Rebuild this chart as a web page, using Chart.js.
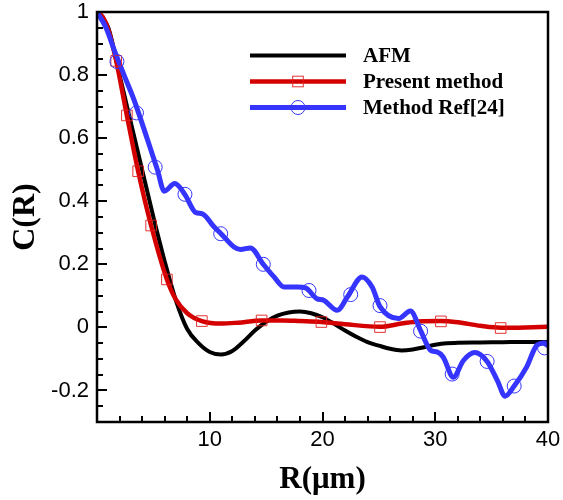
<!DOCTYPE html>
<html>
<head>
<meta charset="utf-8">
<script src="https://cdn.jsdelivr.net/npm/chart.js@4/dist/chart.umd.min.js"></script>
<style>
html,body{margin:0;padding:0;background:#fff;}
#wrap{width:563px;height:500px;position:relative;}
</style>
</head>
<body>
<div id="wrap"><canvas id="c" width="563" height="500"></canvas></div>
<script>
// ---- data ----
const afmR = [0,1,2,3,4,5,6,7,8,9,10,11,12,13,14,15,16,17,18,19,20,21,22,23,24,25,26,27,28,29,30,31,32,34,36,38,40];
const afmC = [1,0.95,0.80,0.65,0.50,0.35,0.21,0.085,-0.005,-0.05,-0.078,-0.086,-0.075,-0.045,-0.01,0.018,0.037,0.047,0.05,0.045,0.032,0.012,-0.01,-0.03,-0.047,-0.058,-0.068,-0.073,-0.07,-0.063,-0.055,-0.05,-0.049,-0.048,-0.047,-0.046,-0.046];

const presR = [0,0.5,1,1.7,2.65,3.65,4.8,6.2,7,8,9.3,11,12.5,14.6,16.5,18,19.9,22,25.1,27,28.5,30.5,32,34,35.8,38,40];
const presC = [1,0.985,0.945,0.845,0.672,0.495,0.323,0.152,0.088,0.045,0.02,0.012,0.015,0.022,0.022,0.02,0.017,0.01,0.002,0.012,0.019,0.02,0.016,0.005,-0.001,0.0,0.002];
const presMarkR = [1.7,2.65,3.65,4.8,6.2,9.3,14.6,19.9,25.1,30.5,35.8];
const presMarkC = [0.845,0.672,0.495,0.323,0.152,0.02,0.022,0.017,0.001,0.019,-0.002];

const refR = [0,0.8,1.53,2.4,3.3,4.49,5.37,5.96,6.9,7.8,8.76,9.35,10.4,11,12.15,12.74,13.6,14.75,15.7,16.6,17.8,18.5,19.5,20.1,21.3,22.2,23.5,24.4,25.1,26.75,27.8,28.7,29.6,30.15,30.7,31.6,32.5,33.5,34.6,35.5,36.2,37,38.1,39,39.6,40];
const refC = [1,0.95,0.879,0.80,0.72,0.594,0.498,0.432,0.456,0.421,0.364,0.36,0.318,0.297,0.255,0.247,0.252,0.2,0.16,0.128,0.128,0.125,0.091,0.086,0.054,0.096,0.16,0.128,0.066,0.028,0.052,-0.01,-0.073,-0.078,-0.094,-0.158,-0.105,-0.08,-0.108,-0.168,-0.218,-0.186,-0.126,-0.057,-0.05,-0.058];
const refMarkR = [1.77,3.5,5.16,7.8,10.97,14.75,18.8,22.5,25.1,28.7,31.5,34.6,37.0,39.7];
const refMarkC = [0.843,0.68,0.508,0.422,0.297,0.2,0.117,0.104,0.069,-0.012,-0.148,-0.108,-0.186,-0.065];

const seriesNames = ['AFM','Present method','Method Ref[24]'];
const xTickValues = [10,20,30,40];
const yTickValues = [-0.2,0,0.2,0.4,0.6,0.8,1];
const xTitle = 'R(\u03bcm)';
const yTitle = 'C(R)';

// ---- styles ----
const BLACK = '#000000', RED = '#d40000', BLUE = '#3535ff';
const pts = (xs, ys) => xs.map((x, i) => ({x: x, y: ys[i]}));

const legendItems = [
  {label: seriesNames[0], color: BLACK, width: 4, marker: null},
  {label: seriesNames[1], color: RED, width: 4.5, marker: 'rect'},
  {label: seriesNames[2], color: BLUE, width: 5, marker: 'circle'}
];

const framePlugin = {
  id: 'frame',
  afterDatasetsDraw(chart) {
    const {ctx, chartArea: a, scales: {x, y}} = chart;
    ctx.save();
    ctx.strokeStyle = '#000';
    ctx.lineWidth = 2.5;
    ctx.strokeRect(a.left, a.top, a.right - a.left, a.bottom - a.top);
    ctx.lineWidth = 2;
    // x ticks (inward from bottom)
    for (let v = 2; v < 40; v += 2) {
      const px = Math.round(x.getPixelForValue(v));
      const len = (v % 10 === 0) ? 10 : 6;
      ctx.beginPath(); ctx.moveTo(px, a.bottom); ctx.lineTo(px, a.bottom - len); ctx.stroke();
    }
    // y ticks (inward from left)
    for (let k = -5; k < 20; k++) {
      const v = k * 0.05;
      const py = Math.round(y.getPixelForValue(v));
      const len = (k % 4 === 0) ? 10 : 6;
      ctx.beginPath(); ctx.moveTo(a.left, py); ctx.lineTo(a.left + len, py); ctx.stroke();
    }
    // legend
    const x0 = 250, x1 = 346, xm = 298, xt = 363;
    const rows = [55.5, 81.5, 107.5];
    ctx.font = 'bold 21px "Liberation Serif", "Times New Roman", serif';
    ctx.textBaseline = 'middle';
    ctx.textAlign = 'left';
    legendItems.forEach((it, i) => {
      const yy = rows[i];
      ctx.strokeStyle = it.color;
      ctx.lineWidth = it.width;
      ctx.beginPath(); ctx.moveTo(x0, yy); ctx.lineTo(x1, yy); ctx.stroke();
      ctx.lineWidth = 1;
      if (it.marker === 'rect') {
        ctx.strokeStyle = 'rgba(225,30,30,0.9)';
        ctx.strokeRect(xm - 5.3, yy - 5.3, 10.6, 10.6);
      } else if (it.marker === 'circle') {
        ctx.strokeStyle = BLUE;
        ctx.beginPath(); ctx.arc(xm, yy, 7, 0, Math.PI * 2); ctx.stroke();
      }
      ctx.fillStyle = '#000';
      ctx.fillText(it.label, xt, yy + 1);
    });
    ctx.restore();
  }
};

new Chart(document.getElementById('c'), {
  type: 'line',
  data: {
    datasets: [
      {label: seriesNames[2] + ' markers', data: pts(refMarkR, refMarkC), showLine: false,
       pointStyle: 'circle', pointRadius: 7, pointBorderWidth: 1, pointBorderColor: BLUE,
       pointBackgroundColor: 'rgba(0,0,0,0)', order: 0},
      {label: seriesNames[1] + ' markers', data: pts(presMarkR, presMarkC), showLine: false,
       pointStyle: 'rect', pointRadius: 7.5, pointBorderWidth: 1, pointBorderColor: 'rgba(225,30,30,0.9)',
       pointBackgroundColor: 'rgba(0,0,0,0)', order: 1},
      {label: seriesNames[2], data: pts(refR, refC), borderColor: BLUE, borderWidth: 5,
       pointRadius: 0, cubicInterpolationMode: 'monotone', order: 2},
      {label: seriesNames[1], data: pts(presR, presC), borderColor: RED, borderWidth: 4.5,
       pointRadius: 0, cubicInterpolationMode: 'monotone', order: 3},
      {label: seriesNames[0], data: pts(afmR, afmC), borderColor: BLACK, borderWidth: 4,
       pointRadius: 0, cubicInterpolationMode: 'monotone', order: 4}
    ]
  },
  options: {
    responsive: false,
    animation: false,
    events: [],
    layout: {padding: {left: 0, right: 15, top: 12, bottom: 0}},
    plugins: {legend: {display: false}, tooltip: {enabled: false}},
    scales: {
      x: {
        type: 'linear', min: 0, max: 40,
        afterFit: s => { s.height = 78; },
        afterBuildTicks: s => { s.ticks = xTickValues.map(v => ({value: v})); },
        grid: {display: true, drawOnChartArea: false, drawTicks: true, tickLength: 5,
               color: 'rgba(0,0,0,0)', tickColor: 'rgba(0,0,0,0)'},
        border: {display: false},
        ticks: {padding: 0, color: '#000', maxRotation: 0,
          font: {family: '"Liberation Sans", Arial, sans-serif', size: 22},
          callback: v => String(v)},
        title: {display: true, text: xTitle, color: '#000', padding: {top: 0, bottom: 1},
          font: {family: '"Liberation Serif", "Times New Roman", serif', size: 31, weight: 'bold'}}
      },
      y: {
        type: 'linear', min: -0.3, max: 1,
        afterFit: s => { s.width = 97; },
        afterBuildTicks: s => { s.ticks = yTickValues.map(v => ({value: v})); },
        grid: {display: true, drawOnChartArea: false, drawTicks: true, tickLength: 8,
               color: 'rgba(0,0,0,0)', tickColor: 'rgba(0,0,0,0)'},
        border: {display: false},
        ticks: {padding: 0, color: '#000',
          font: {family: '"Liberation Sans", Arial, sans-serif', size: 22, lineHeight: 1},
          callback: v => String(Number(v.toFixed(1)))},
        title: {display: true, text: yTitle, color: '#000', padding: {top: 7, bottom: 0},
          font: {family: '"Liberation Serif", "Times New Roman", serif', size: 32, weight: 'bold'}}
      }
    }
  },
  plugins: [framePlugin]
});
</script>
</body>
</html>
